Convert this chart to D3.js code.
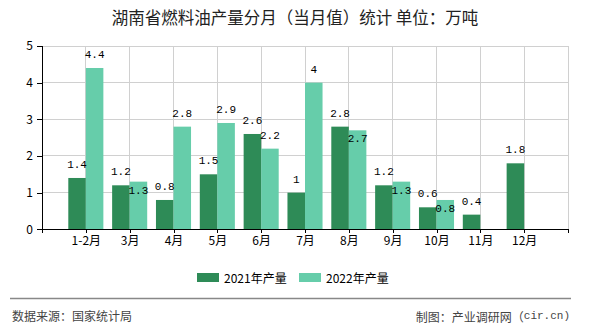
<!DOCTYPE html>
<html><head><meta charset="utf-8">
<script src="https://cdn.jsdelivr.net/npm/d3@7"></script>
<style>
html,body{margin:0;padding:0;background:#fff;}
svg{display:block;}
</style></head>
<body>
<svg id="chart" width="590" height="330"></svg>
<script>
const title = "湖南省燃料油产量分月（当月值）统计 单位：万吨";
const categories = ["1-2月","3月","4月","5月","6月","7月","8月","9月","10月","11月","12月"];
const series2021 = [1.4,1.2,0.8,1.5,2.6,1,2.8,1.2,0.6,0.4,1.8];
const series2022 = [4.4,1.3,2.8,2.9,2.2,4,2.7,1.3,0.8,null,null];
const seriesNames = ["2021年产量","2022年产量"];
const yTicks = [0,1,2,3,4,5];
const sourceText = "数据来源：国家统计局";
const creditText = "制图：产业调研网（";
const creditTail = "cir.cn)";

(function(){
const colors = ["#2e8b57","#66cdaa"];
const svg = d3.select("#chart");
const pL = 42, pR = 568, pT = 46, pB = 229.3;

const x = d3.scaleLinear().domain([0, categories.length + 1]).range([pL, pR]);
const y = d3.scaleLinear().domain([0, 5]).range([pB, pT]);
const step = x(1) - x(0);
const bw = step * 0.4;

// title
svg.append("text").attr("x", 295).attr("y", 24).attr("text-anchor","middle")
  .attr("font-family","'Noto Sans CJK SC', sans-serif").attr("font-size",16.5).attr("fill","#222")
  .text(title);

// grid
const grid = svg.append("g");
grid.selectAll("line.h").data(yTicks.filter(d=>d>0)).join("line")
  .attr("x1", pL).attr("x2", pR).attr("y1", d=>y(d)).attr("y2", d=>y(d))
  .attr("stroke","#d0d0d0").attr("stroke-width",1).attr("shape-rendering","crispEdges");
grid.selectAll("line.v").data(d3.range(1, categories.length + 2)).join("line")
  .attr("x1", d=>x(d)).attr("x2", d=>x(d)).attr("y1", pT).attr("y2", pB)
  .attr("stroke","#d0d0d0").attr("stroke-width",1).attr("shape-rendering","crispEdges");

// bars
const idx = d3.range(categories.length);
svg.append("g").selectAll("rect").data(idx).join("rect")
  .attr("x", i => x(i+1) - bw).attr("width", bw)
  .attr("y", i => y(series2021[i])).attr("height", i => y(0) - y(series2021[i]))
  .attr("fill", colors[0]);
svg.append("g").selectAll("rect").data(idx.filter(i => series2022[i] != null)).join("rect")
  .attr("x", i => x(i+1)).attr("width", bw)
  .attr("y", i => y(series2022[i])).attr("height", i => y(0) - y(series2022[i]))
  .attr("fill", colors[1]);

// axes
const yAxis = d3.axisLeft(y).tickValues(yTicks).tickSize(5).tickPadding(4).tickFormat(d3.format("d"));
const ya = svg.append("g").attr("transform", `translate(${pL},0)`).call(yAxis);
const xAxis = d3.axisBottom(x).tickValues(d3.range(0, categories.length + 2)).tickSize(4).tickPadding(3)
  .tickFormat(d => (d >= 1 && d <= categories.length) ? categories[d-1] : "");
const xa = svg.append("g").attr("transform", `translate(0,${pB})`).call(xAxis);
[ya, xa].forEach(g => {
  g.selectAll("path,line").attr("stroke","#000").attr("shape-rendering","crispEdges");
  g.selectAll("text").attr("font-family","'Noto Sans CJK SC', sans-serif").attr("font-size",12).attr("fill","#000");
});
ya.select("path").attr("d", `M0,${pT}V${pB}`);
xa.select("path").attr("d", `M${pL},0H${pR}`);

// value labels
const lblFont = "'Liberation Mono', 'DejaVu Sans Mono', monospace";
const lab = svg.append("g").attr("font-family", lblFont).attr("font-size", 11).attr("fill","#000")
  .attr("text-anchor","middle").attr("dominant-baseline","central");
const c21 = i => y(series2021[i]) - 13;
lab.selectAll("text.a").data(idx).join("text")
  .attr("x", i => x(i+1) - bw/2).attr("y", c21).text(i => series2021[i]);
lab.selectAll("text.b").data(idx.filter(i => series2022[i] != null)).join("text")
  .attr("x", i => x(i+1) + bw/2)
  .attr("y", i => {
    const d = y(series2022[i]) - 13;
    return Math.abs(d - c21(i)) < 12 ? y(series2022[i]) + 9 : d;
  })
  .text(i => series2022[i]);

// legend
const lg = svg.append("g");
const legX = [197, 299];
seriesNames.forEach((n, k) => {
  lg.append("rect").attr("x", legX[k]).attr("y", 273).attr("width", 22).attr("height", 9).attr("fill", colors[k]);
  lg.append("text").attr("x", legX[k] + 27).attr("y", 277.7).attr("dominant-baseline","central")
    .attr("font-family","'Noto Sans CJK SC', sans-serif").attr("font-size",12).attr("fill","#000").text(n);
});

// footer
svg.append("line").attr("x1",10).attr("x2",571).attr("y1",298.5).attr("y2",298.5)
  .attr("stroke","#888").attr("stroke-width",1.5);
svg.append("text").attr("x",12).attr("y",315.7).attr("dominant-baseline","central")
  .attr("font-family","'Noto Sans CJK SC', sans-serif").attr("font-size",12).attr("fill","#444").text(sourceText);
const ct = svg.append("text").attr("x",570).attr("y",315.7).attr("dominant-baseline","central").attr("text-anchor","end")
  .attr("font-family","'Noto Sans CJK SC', sans-serif").attr("font-size",12).attr("fill","#444");
ct.append("tspan").text(creditText);
ct.append("tspan").attr("font-family", lblFont).attr("font-size", 11).text(creditTail);
})();
</script>
</body></html>
